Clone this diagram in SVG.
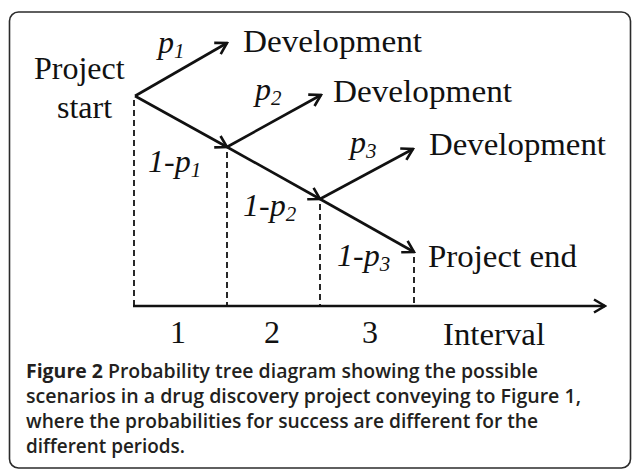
<svg xmlns="http://www.w3.org/2000/svg" width="632" height="470" viewBox="0 0 632 470">
<style>
.frame{fill:#fff;stroke:#2b2b2b;stroke-width:1.6}
.t{font-family:"Liberation Serif","Times New Roman",serif;font-size:32px;fill:#111}
.i{font-family:"Liberation Serif","Times New Roman",serif;font-size:32px;font-style:italic;fill:#111}
.sub{font-size:21px}
.arr{stroke:#111;stroke-width:2.6;fill:none;marker-end:url(#ah)}
.dash{stroke:#111;stroke-width:1.8;stroke-dasharray:6 4;fill:none}
.cap{font-family:"Open Sans","Noto Sans",sans-serif;font-size:19px;font-weight:600;fill:#231f20}
.capb{font-weight:700}
</style>
<defs>
<marker id="ah" viewBox="-13 -8 15 16" markerWidth="15" markerHeight="16" refX="0" refY="0" orient="auto" markerUnits="userSpaceOnUse">
<path d="M-11,-6.5 L0,0 L-11,6.5" fill="none" stroke="#111" stroke-width="2.6" stroke-linejoin="miter"/>
</marker>
</defs>
<rect class="frame" x="9.5" y="12" width="621" height="456" rx="9"/>
<g id="connectors">
<line class="arr" x1="135" y1="96" x2="227" y2="43"/>
<line class="arr" x1="135" y1="96" x2="227" y2="147"/>
<line class="arr" x1="227" y1="147" x2="321" y2="95"/>
<line class="arr" x1="227" y1="147" x2="320" y2="199"/>
<line class="arr" x1="320" y1="199" x2="413" y2="149"/>
<line class="arr" x1="320" y1="199" x2="414" y2="252"/>
<line class="dash" x1="134" y1="100" x2="134" y2="305"/>
<line class="dash" x1="227" y1="152" x2="227" y2="305"/>
<line class="dash" x1="320" y1="204" x2="320" y2="305"/>
<line class="dash" x1="414" y1="257" x2="414" y2="305"/>
<line class="arr" x1="133" y1="306" x2="605" y2="306"/>
</g>
<g id="start"><text class="t" x="34" y="79">Project</text><text class="t" x="57" y="118">start</text></g>
<g id="dev1"><text class="t" x="243" y="52" textLength="179" lengthAdjust="spacingAndGlyphs">Development</text></g>
<g id="dev2"><text class="t" x="333" y="102" textLength="179" lengthAdjust="spacingAndGlyphs">Development</text></g>
<g id="dev3"><text class="t" x="429" y="155" textLength="177" lengthAdjust="spacingAndGlyphs">Development</text></g>
<g id="end"><text class="t" x="428" y="267" textLength="149" lengthAdjust="spacingAndGlyphs">Project end</text></g>
<g id="labels">
<text class="i" x="158" y="53">p<tspan class="sub" dy="5">1</tspan></text>
<text class="i" x="255" y="100">p<tspan class="sub" dy="5">2</tspan></text>
<text class="i" x="350" y="153">p<tspan class="sub" dy="5">3</tspan></text>
<text class="i" x="148" y="172">1-p<tspan class="sub" dy="5">1</tspan></text>
<text class="i" x="243" y="216">1-p<tspan class="sub" dy="5">2</tspan></text>
<text class="i" x="337" y="266">1-p<tspan class="sub" dy="5">3</tspan></text>
</g>
<g id="axis-labels">
<text class="t" x="178" y="343" text-anchor="middle">1</text>
<text class="t" x="272" y="343" text-anchor="middle">2</text>
<text class="t" x="370" y="343" text-anchor="middle">3</text>
<text class="t" x="443" y="345" textLength="102" lengthAdjust="spacingAndGlyphs">Interval</text>
</g>
<g id="caption">
<text class="cap" x="26" y="378" textLength="512" lengthAdjust="spacingAndGlyphs"><tspan class="capb">Figure 2</tspan> Probability tree diagram showing the possible</text>
<text class="cap" x="26" y="403" textLength="555" lengthAdjust="spacingAndGlyphs">scenarios in a drug discovery project conveying to Figure 1,</text>
<text class="cap" x="26" y="428" textLength="512" lengthAdjust="spacingAndGlyphs">where the probabilities for success are different for the</text>
<text class="cap" x="26" y="453" textLength="159" lengthAdjust="spacingAndGlyphs">different periods.</text>
</g>
</svg>
